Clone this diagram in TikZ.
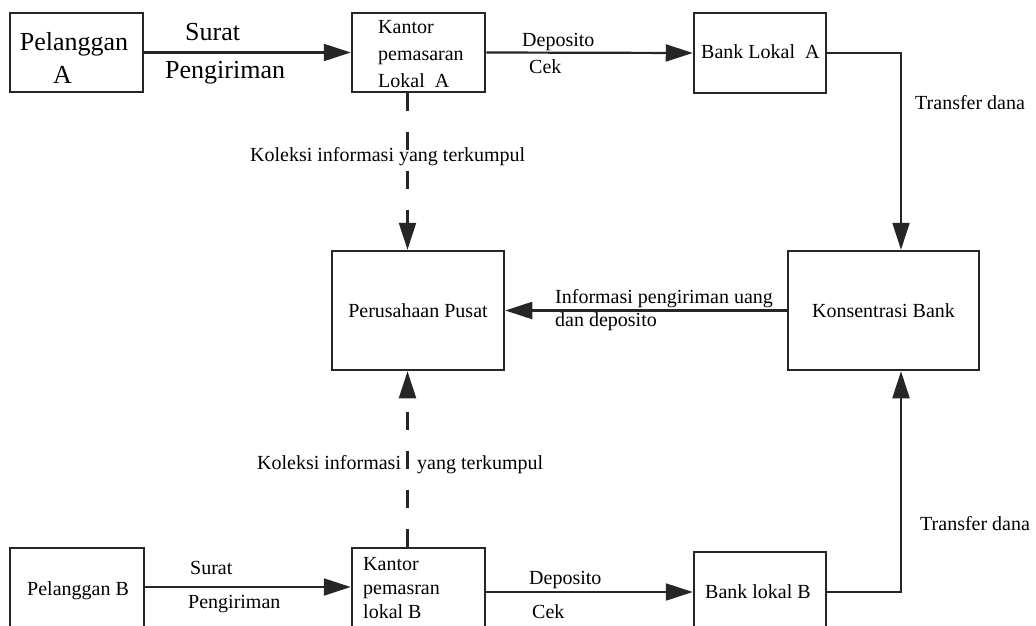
\documentclass[tikz,border=0pt]{standalone}
\usepackage{fontspec}
\setmainfont{Liberation Serif}
\usetikzlibrary{arrows.meta}
\begin{document}
\begin{tikzpicture}[x=1pt,y=-1pt,
  box/.style={draw=black!85, line width=2.5pt, inner sep=0pt, minimum width=#1},
  flow/.style={draw=black!85, line width=2.2pt, -{Triangle[length=27pt,width=17pt]}},
  infoline/.style={flow, dash pattern=on 18pt off 21pt},
  txt/.style={inner sep=0pt, anchor=base west, font=\fontsize{20}{24}\selectfont},
  bigtxt/.style={inner sep=0pt, anchor=base, font=\fontsize{26}{30}\selectfont}]
\useasboundingbox (0,0) rectangle (1036,626);
\fill[white] (0,0) rectangle (1036,626);
\clip (0,0) rectangle (1036,626);

% upper row
\node[box=133pt, minimum height=79pt] (pa) at (76.5,52.5) {};
\node[box=133pt, minimum height=79pt] (ka) at (418.5,52.5) {};
\node[box=132pt, minimum height=80pt] (ba) at (760,53) {};
% centre row
\node[box=172pt, minimum height=119pt, font=\fontsize{20}{24}\selectfont] (pp) at (418,310.5) {Perusahaan Pusat};
\node[box=191pt, minimum height=119pt, font=\fontsize{20}{24}\selectfont] (kb) at (883.5,310.5) {Konsentrasi Bank};
% lower row (boxes run past the lower edge)
\node[box=134pt, minimum height=92pt] (pb) at (77,594) {};
\node[box=133pt, minimum height=92pt] (kbb) at (418.5,594) {};
\node[box=132pt, minimum height=88pt] (bb) at (760,596) {};

% labels inside the boxes
\node[bigtxt] (tpa1) at (74,51) {Pelanggan};
\node[bigtxt] (tpa2) at (62.5,83) {A};
\node[txt] (tka1) at (378,34) {Kantor};
\node[txt] (tka2) at (378,61) {pemasaran};
\node[txt] (tka3) at (378,88) {Lokal\ \ A};
\node[txt] (tba) at (701,59) {Bank Lokal\ \ A};
\node[txt] (tpb) at (27,595) {Pelanggan B};
\node[txt] (tkb1) at (363,570) {Kantor};
\node[txt] (tkb2) at (363,594) {pemasran};
\node[txt] (tkb3) at (363,618) {lokal B};
\node[txt] (tbb) at (705,598) {Bank lokal B};

% connectors
\draw[flow] (pa.east) -- (ka.west);
\draw[flow] (ka.east) -- (ba.west);
\draw[flow] (ba.east) -| ([xshift=17.5pt]kb.north);
\draw[flow] (kb.west) -- (pp.east);
\draw[infoline] ([xshift=-11pt]ka.south) -- ([xshift=-10.5pt]pp.north);
\draw[infoline] ([xshift=-11pt]kbb.north) -- ([xshift=-10.5pt]pp.south);
\draw[flow] ([yshift=7pt]pb.east) -- ([yshift=7pt]kbb.west);
\draw[flow] ([yshift=2pt]kbb.east) -- ([yshift=4pt]bb.west);
\draw[flow] ([yshift=4pt]bb.east) -| ([xshift=17.5pt]kb.south);

% connector labels
\node[bigtxt, anchor=base west] (lsa) at (185,41) {Surat};
\node[bigtxt, anchor=base west] (lpa) at (165,78) {Pengiriman};
\node[txt] (lda) at (522,47) {Deposito};
\node[txt] (lca) at (529,74) {Cek};
\node[txt] (lta) at (915,109) {Transfer dana};
\node[txt] (lka) at (250,161) {Koleksi informasi yang terkumpul};
\node[txt] (li1) at (555,303) {Informasi pengiriman uang};
\node[txt] (li2) at (555,326) {dan deposito};
\node[txt] (lkb1) at (257,469) {Koleksi informasi};
\node[txt] (lkb2) at (417,469) {yang terkumpul};
\node[txt] (ltb) at (920,530) {Transfer dana};
\node[txt] (lsb) at (190,574) {Surat};
\node[txt] (lpb) at (188,608) {Pengiriman};
\node[txt] (ldb) at (529,584) {Deposito};
\node[txt] (lcb) at (532,618) {Cek};
\end{tikzpicture}
\end{document}
